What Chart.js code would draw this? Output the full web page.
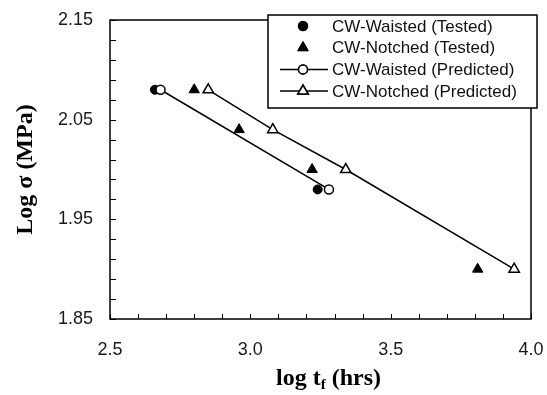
<!DOCTYPE html>
<html>
<head>
<meta charset="utf-8">
<script src="https://cdn.jsdelivr.net/npm/chart.js@4.4.0/dist/chart.umd.min.js"></script>
<style>
  html, body { margin: 0; padding: 0; background: #fff; }
  canvas { display: block; }
</style>
</head>
<body>
<canvas id="grafico" width="547" height="395"></canvas>
<script>
// dados
const waistedTestedX = [2.66, 3.24];
const waistedTestedY = [2.08, 1.98];
const notchedTestedX = [2.80, 2.96, 3.22, 3.81];
const notchedTestedY = [2.08, 2.04, 2.00, 1.90];
const waistedPredX = [2.68, 3.28];
const waistedPredY = [2.08, 1.98];
const notchedPredX = [2.85, 3.08, 3.34, 3.94];
const notchedPredY = [2.08, 2.04, 2.00, 1.90];

const xTicks = [2.5, 3.0, 3.5, 4.0];
const yTicks = [1.85, 1.95, 2.05, 2.15];
const xMinorStep = 0.1;
const yMinorStep = 0.02;

const labels = ['CW-Waisted (Tested)', 'CW-Notched (Tested)', 'CW-Waisted (Predicted)', 'CW-Notched (Predicted)'];

function pares(xs, ys) {
    return xs.map((v, i) => ({ x: v, y: ys[i] }));
}

// moldura + ticks para dentro
const moldura = {
    id: 'moldura',
    beforeDatasetsDraw(chart) {
        const { ctx, chartArea: a, scales: { x, y } } = chart;
        ctx.save();
        ctx.strokeStyle = '#000';
        ctx.lineWidth = 1.5;
        ctx.strokeRect(a.left, a.top, a.right - a.left, a.bottom - a.top);
        ctx.lineWidth = 1;
        const nx = Math.round((x.max - x.min) / xMinorStep);
        for (let i = 0; i <= nx; i++) {
            const px = Math.round(x.getPixelForValue(x.min + i * xMinorStep)) + 0.5;
            ctx.beginPath();
            ctx.moveTo(px, a.bottom);
            ctx.lineTo(px, a.bottom - 5);
            ctx.stroke();
        }
        const ny = Math.round((y.max - y.min) / yMinorStep);
        for (let i = 0; i <= ny; i++) {
            const py = Math.round(y.getPixelForValue(y.min + i * yMinorStep)) + 0.5;
            ctx.beginPath();
            ctx.moveTo(a.left, py);
            ctx.lineTo(a.left + 6, py);
            ctx.stroke();
        }
        ctx.restore();
    }
};

// titulo do eixo x com subscrito + legenda
const extras = {
    id: 'extras',
    afterDraw(chart) {
        const { ctx, chartArea: a } = chart;
        ctx.save();
        // titulo x
        const big = "bold 24px 'Liberation Serif'";
        const small = "bold 15px 'Liberation Serif'";
        ctx.fillStyle = '#000';
        ctx.textBaseline = 'alphabetic';
        ctx.font = big;
        const w1 = ctx.measureText('log t').width;
        const w3 = ctx.measureText(' (hrs)').width;
        ctx.font = small;
        const w2 = ctx.measureText('f').width;
        let tx = (a.left + a.right) / 2 + 8 - (w1 + w2 + w3) / 2;
        const base = 385;
        ctx.font = big;
        ctx.fillText('log t', tx, base);
        tx += w1;
        ctx.font = small;
        ctx.fillText('f', tx, base + 4);
        tx += w2;
        ctx.font = big;
        ctx.fillText(' (hrs)', tx, base);

        // legenda
        const lx = 268, ly = 15, lw = 269, lh = 93;
        ctx.fillStyle = '#fff';
        ctx.fillRect(lx, ly, lw, lh);
        ctx.strokeStyle = '#000';
        ctx.lineWidth = 1.5;
        ctx.strokeRect(lx, ly, lw, lh);
        ctx.font = "17px 'Liberation Sans'";
        ctx.textBaseline = 'middle';
        chart.data.datasets.forEach((ds, i) => {
            const cy = ly + 11 + i * 21.7;
            if (ds.showLine) {
                ctx.strokeStyle = '#000';
                ctx.lineWidth = 1.5;
                ctx.beginPath();
                ctx.moveTo(lx + 12, cy);
                ctx.lineTo(lx + 60, cy);
                ctx.stroke();
            }
            Chart.helpers.drawPoint(ctx, {
                pointStyle: ds.pointStyle,
                radius: ds.pointRadius,
                borderWidth: ds.pointBorderWidth
            }, lx + 35, cy);
            ctx.fillStyle = ds.pointBackgroundColor;
            ctx.strokeStyle = '#000';
            ctx.fill();
            ctx.lineWidth = ds.pointBorderWidth;
            ctx.stroke();
            ctx.fillStyle = '#111';
            ctx.fillText(ds.label, lx + 64, cy + 1);
        });
        ctx.restore();
    }
};

const grafico = new Chart(document.getElementById('grafico').getContext('2d'), {
    type: 'scatter',
    data: {
        datasets: [
            {
                label: labels[0],
                data: pares(waistedTestedX, waistedTestedY),
                pointStyle: 'circle',
                pointRadius: 4.5,
                pointBorderWidth: 1,
                pointBackgroundColor: '#000',
                pointBorderColor: '#000',
                showLine: false,
                order: 1
            },
            {
                label: labels[1],
                data: pares(notchedTestedX, notchedTestedY),
                pointStyle: 'triangle',
                pointRadius: 6,
                pointBorderWidth: 1,
                pointBackgroundColor: '#000',
                pointBorderColor: '#000',
                showLine: false,
                order: 1
            },
            {
                label: labels[2],
                data: pares(waistedPredX, waistedPredY),
                pointStyle: 'circle',
                pointRadius: 4.5,
                pointBorderWidth: 1.5,
                pointBackgroundColor: '#fff',
                pointBorderColor: '#000',
                borderColor: '#000',
                borderWidth: 1.5,
                showLine: true,
                order: 0
            },
            {
                label: labels[3],
                data: pares(notchedPredX, notchedPredY),
                pointStyle: 'triangle',
                pointRadius: 6,
                pointBorderWidth: 1.5,
                pointBackgroundColor: '#fff',
                pointBorderColor: '#000',
                borderColor: '#000',
                borderWidth: 1.5,
                showLine: true,
                order: 0
            }
        ]
    },
    options: {
        responsive: false,
        animation: false,
        devicePixelRatio: 1,
        layout: { padding: { top: 20, right: 16, left: 0, bottom: 0 } },
        plugins: {
            legend: { display: false },
            tooltip: { enabled: false }
        },
        scales: {
            x: {
                type: 'linear',
                min: 2.5,
                max: 4.0,
                grid: { display: false, drawTicks: false },
                border: { display: false },
                afterBuildTicks: (s) => { s.ticks = xTicks.map(v => ({ value: v })); },
                afterFit: (s) => { s.height = 76; s.paddingLeft = 0; s.paddingRight = 0; },
                ticks: {
                    padding: 20,
                    color: '#1a1a1a',
                    font: { family: 'Liberation Sans', size: 18 },
                    maxRotation: 0,
                    callback: (v) => v.toFixed(1)
                }
            },
            y: {
                type: 'linear',
                min: 1.85,
                max: 2.15,
                grid: { display: false, drawTicks: false },
                border: { display: false },
                afterBuildTicks: (s) => { s.ticks = yTicks.map(v => ({ value: v })); },
                afterFit: (s) => { s.width = 110; s.paddingTop = 0; s.paddingBottom = 0; },
                ticks: {
                    padding: 17,
                    color: '#1a1a1a',
                    font: { family: 'Liberation Sans', size: 18 },
                    callback: (v) => v.toFixed(2)
                },
                title: {
                    display: true,
                    text: 'Log σ (MPa)',
                    color: '#000',
                    font: { family: 'Liberation Serif', size: 24, weight: 'bold' },
                    padding: { top: 11, bottom: 0 }
                }
            }
        }
    },
    plugins: [moldura, extras]
});
</script>
</body>
</html>
